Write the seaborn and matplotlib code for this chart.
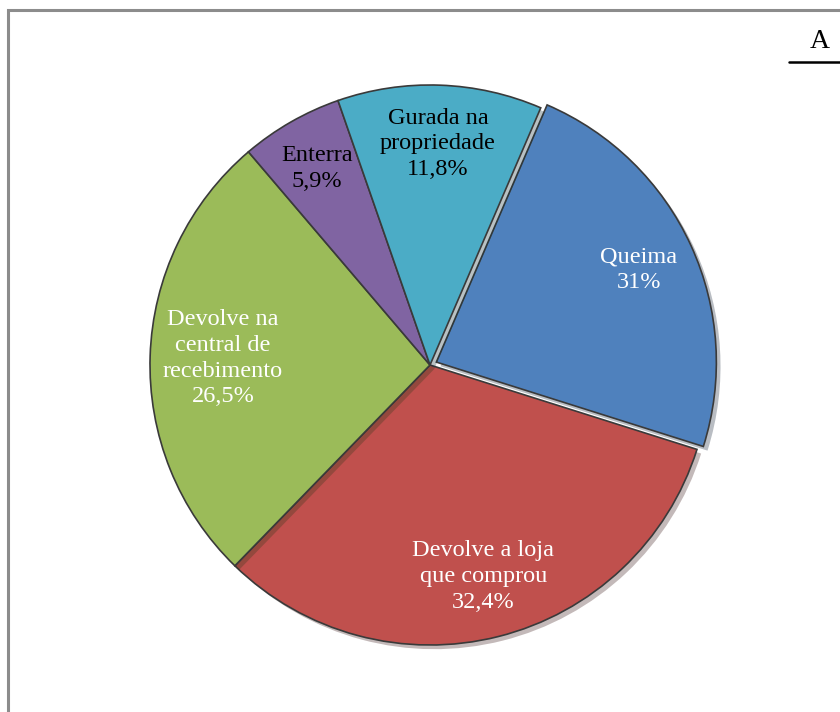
import numpy as np
import seaborn as sns
import matplotlib.pyplot as plt
import matplotlib.patheffects as pe
from matplotlib.patches import Rectangle
from matplotlib.lines import Line2D

sns.set_theme(style="white")
plt.rcParams['font.family'] = ['Liberation Serif', 'DejaVu Serif']

# slice sizes (angles), and the printed labels
categories = ["Queima", "Devolve a loja\nque comprou", "Devolve na\ncentral de\nrecebimento",
              "Enterra", "Gurada na\npropriedade"]
values = [23.4, 32.4, 26.5, 5.9, 11.8]
pct_labels = ["31%", "32,4%", "26,5%", "5,9%", "11,8%"]
colors = ["#4F81BD", "#C0504D", "#9BBB59", "#8064A2", "#4BACC6"]
text_colors = ["white", "white", "white", "black", "black"]
explode = [0.025, 0, 0, 0, 0]
label_dist = [0.82, 0.78, 0.74, 0.81, 0.79]

labels = [c + "\n" + p for c, p in zip(categories, pct_labels)]

fig = plt.figure(figsize=(8.4, 7.12), dpi=100)
cx, cy, r = 430, 365, 280
ax = fig.add_axes([(cx - r) / 840, (712 - cy - r) / 712, 2 * r / 840, 2 * r / 712])

wedges, texts = ax.pie(values, labels=labels, colors=colors, explode=explode,
                       startangle=66.7, counterclock=False, labeldistance=0.79,
                       wedgeprops=dict(edgecolor="#3a3a3a", linewidth=1.2),
                       textprops=dict(fontsize=17.5))
for w in wedges:
    w.set_path_effects([pe.SimplePatchShadow(offset=(3, -3), alpha=0.3), pe.Normal()])
for w, t, c, d in zip(wedges, texts, text_colors, label_dist):
    mid = np.deg2rad((w.theta1 + w.theta2) / 2)
    t.set_position((d * np.cos(mid), d * np.sin(mid)))
    t.set_ha("center")
    t.set_va("center")
    t.set_color(c)
    t.set_linespacing(1.3)

ax.set_xlim(-1, 1)
ax.set_ylim(-1, 1)
ax.set_aspect("equal")
ax.axis("off")

# outer frame
fig.patches.append(Rectangle((8 / 840, -0.1), 1.2, 1.1 - 10 / 712, transform=fig.transFigure,
                             fill=False, edgecolor="#8c8c8c", linewidth=2.2))
# panel letter
fig.text(820 / 840, 1 - 42 / 712, "A", fontsize=20, ha="center", va="center", color="black")
fig.lines.append(Line2D([789 / 840, 1.0], [1 - 62 / 712, 1 - 62 / 712],
                        transform=fig.transFigure, color="black", linewidth=1.8))

fig.savefig("out.png", dpi=100)
